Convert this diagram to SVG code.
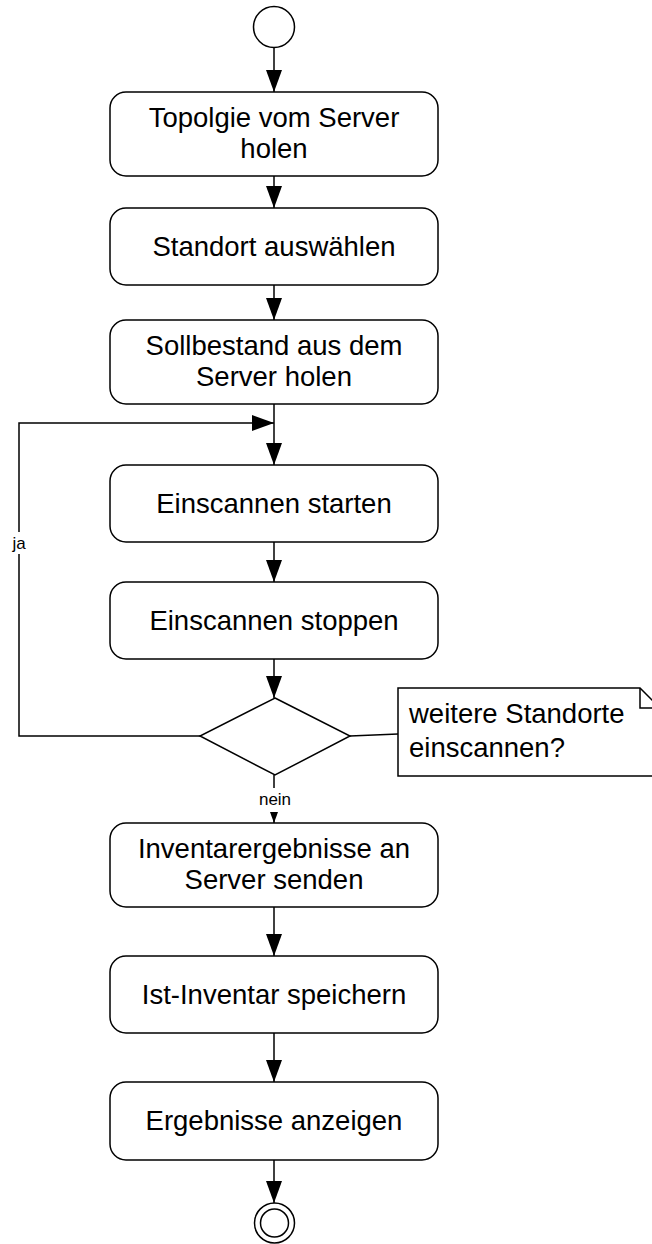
<svg xmlns="http://www.w3.org/2000/svg" width="652" height="1244" viewBox="0 0 652 1244">
  <style>
    .node { fill: #ffffff; stroke: #000000; stroke-width: 1.5; }
    .txt { font-family: "Liberation Sans", Arial, sans-serif; font-size: 27.5px; fill: #000000; text-anchor: middle; }
    .note-txt { font-family: "Liberation Sans", Arial, sans-serif; font-size: 27.5px; fill: #000000; }
    .lbl { font-family: "Liberation Sans", Arial, sans-serif; font-size: 17px; fill: #000000; text-anchor: middle; }
    .edge { fill: none; stroke: #000000; stroke-width: 1.5; marker-end: url(#arrow); }
    .plain { fill: none; stroke: #000000; stroke-width: 1.5; }
  </style>
  <defs>
    <marker id="arrow" markerUnits="userSpaceOnUse" markerWidth="22" markerHeight="16" refX="22" refY="8" orient="auto">
      <path d="M0,0 L22,8 L0,16 Z" fill="#000000"/>
    </marker>
  </defs>
  <rect width="652" height="1244" fill="#ffffff"/>

  <!-- connectors -->
  <g id="connectors">
    <path class="edge" d="M274,48 V92"/>
    <path class="edge" d="M274,176 V208"/>
    <path class="edge" d="M274,285 V320"/>
    <path class="edge" d="M274,404 V465"/>
    <path class="edge" d="M274,542 V582"/>
    <path class="edge" d="M274,659 V698"/>
    <path class="edge" d="M274,775 V823"/>
    <path class="edge" d="M274,907 V956"/>
    <path class="edge" d="M274,1033 V1082"/>
    <path class="edge" d="M274,1160 V1203"/>
    <!-- loop back: ja -->
    <path class="edge" d="M200,736 H19 V423 H274"/>
    <!-- note attachment -->
    <path class="plain" d="M350,736 L398,734"/>
    <!-- edge labels -->
    <g id="label-ja">
      <rect x="9" y="532" width="20" height="22" fill="#ffffff"/>
      <text class="lbl" x="19" y="549">ja</text>
    </g>
    <g id="label-nein">
      <rect x="256" y="788" width="37" height="24" fill="#ffffff"/>
      <text class="lbl" x="275" y="805">nein</text>
    </g>
  </g>

  <g id="start">
    <circle class="node" cx="274" cy="27" r="20.5"/>
  </g>

  <g id="n1">
    <rect class="node" x="110" y="92" width="328" height="84" rx="16"/>
    <text class="txt" x="274" y="127">Topolgie vom Server</text>
    <text class="txt" x="274" y="158">holen</text>
  </g>
  <g id="n2">
    <rect class="node" x="110" y="208" width="328" height="77" rx="16"/>
    <text class="txt" x="274" y="256">Standort auswählen</text>
  </g>
  <g id="n3">
    <rect class="node" x="110" y="320" width="328" height="84" rx="16"/>
    <text class="txt" x="274" y="355">Sollbestand aus dem</text>
    <text class="txt" x="274" y="386">Server holen</text>
  </g>
  <g id="n4">
    <rect class="node" x="110" y="465" width="328" height="77" rx="16"/>
    <text class="txt" x="274" y="513">Einscannen starten</text>
  </g>
  <g id="n5">
    <rect class="node" x="110" y="582" width="328" height="77" rx="16"/>
    <text class="txt" x="274" y="630">Einscannen stoppen</text>
  </g>
  <g id="decision">
    <polygon class="node" points="275,698 350,736 275,775 200,736"/>
  </g>
  <g id="note">
    <path class="node" d="M398,688 H640 L660,708 V776 H398 Z"/>
    <path class="plain" d="M640,688 V708 H660"/>
    <text class="note-txt" x="409" y="723">weitere Standorte</text>
    <text class="note-txt" x="409" y="757">einscannen?</text>
  </g>
  <g id="n6">
    <rect class="node" x="110" y="823" width="328" height="84" rx="16"/>
    <text class="txt" x="274" y="858">Inventarergebnisse an</text>
    <text class="txt" x="274" y="889">Server senden</text>
  </g>
  <g id="n7">
    <rect class="node" x="110" y="956" width="328" height="77" rx="16"/>
    <text class="txt" x="274" y="1004">Ist-Inventar speichern</text>
  </g>
  <g id="n8">
    <rect class="node" x="110" y="1082" width="328" height="78" rx="16"/>
    <text class="txt" x="274" y="1130">Ergebnisse anzeigen</text>
  </g>
  <g id="end">
    <circle class="node" cx="274.5" cy="1223" r="20"/>
    <circle class="node" cx="274.5" cy="1223" r="14"/>
  </g>
</svg>
